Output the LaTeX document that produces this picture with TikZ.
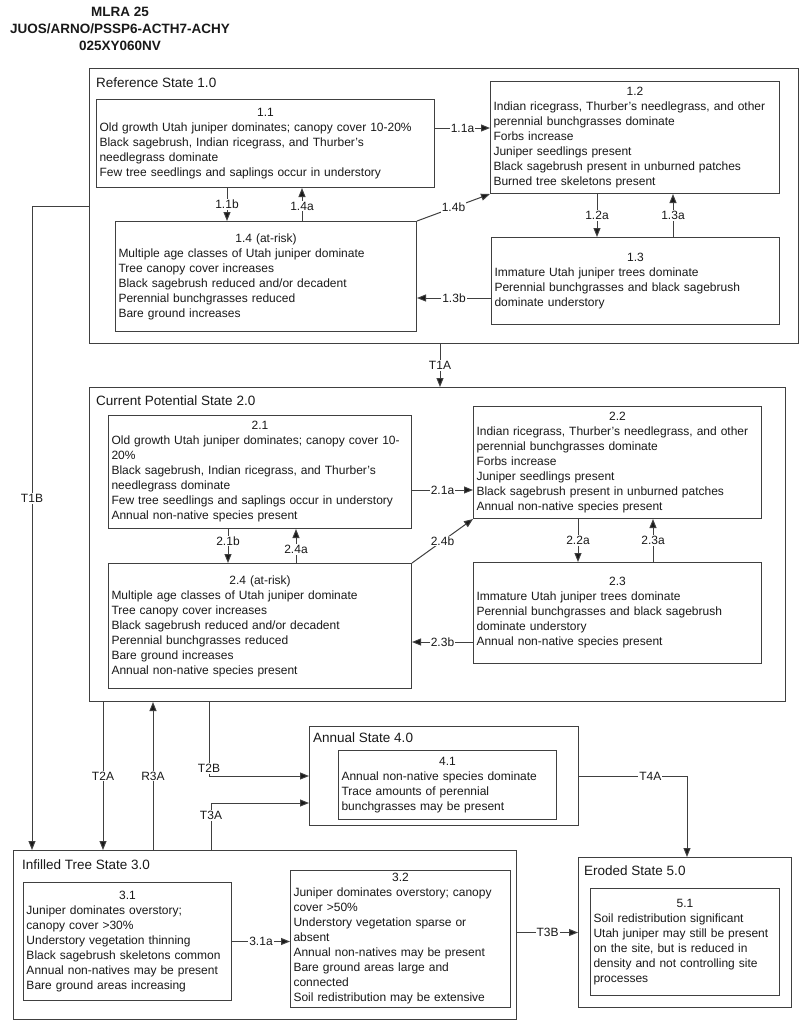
\documentclass[tikz,border=0pt]{standalone}
\usepackage{fontspec}
\setmainfont{Liberation Sans}
\usetikzlibrary{arrows.meta,calc}
\definecolor{linec}{gray}{0.25}
\definecolor{textc}{gray}{0.1}
\newcommand\subst[7]{%
  \node[subbox, text width=#4, minimum height=#5] (#1) at (#2,#3) {{\centering #6\par}#7};}
\begin{document}
\begin{tikzpicture}[x=1pt,y=-1pt,
  statebox/.style={draw=linec, line width=1pt, anchor=north west, inner sep=0pt},
  subbox/.style={draw=linec, line width=1pt, anchor=north west, align=left,
    inner xsep=3pt, inner ysep=0pt, text=textc, font=\fontsize{12}{15}\selectfont},
  statelbl/.style={anchor=west, inner sep=0pt, text=textc, font=\fontsize{13.5}{16}\selectfont},
  titlef/.style={inner sep=0pt, text=textc, font=\fontsize{13.5}{16}\selectfont\bfseries},
  arr/.style={draw=linec, line width=1pt, -{Triangle[length=9pt,width=7pt,fill=black!90]}},
  lbl/.style={fill=white, inner sep=1pt, text=textc, font=\fontsize{12}{14}\selectfont},
]
\useasboundingbox (0,0) rectangle (800,1021);
\fill[white] (0,0) rectangle (800,1021);

% titles
\node[titlef] (ta) at (120,12) {MLRA 25};
\node[titlef] (tb) at (120,29) {JUOS/ARNO/PSSP6-ACTH7-ACHY};
\node[titlef] (tc) at (120,46) {025XY060NV};

% state boxes
\node[statebox, minimum width=709, minimum height=275] (ref) at (89,68) {};
\node[statelbl] (refl) at (96,83) {Reference State 1.0};
\node[statebox, minimum width=696, minimum height=314] (cur) at (89,387) {};
\node[statelbl] (curl) at (96,401) {Current Potential State 2.0};
\node[statebox, minimum width=269, minimum height=99] (ann) at (309,726) {};
\node[statelbl] (annl) at (313,738) {Annual State 4.0};
\node[statebox, minimum width=503, minimum height=169] (inf) at (13,850) {};
\node[statelbl] (infl) at (22,865) {Infilled Tree State 3.0};
\node[statebox, minimum width=213, minimum height=150] (ero) at (578,857) {};
\node[statelbl] (erol) at (584,871) {Eroded State 5.0};

% community phases
\subst{n11}{96}{99}{332}{88}{1.1}{Old growth Utah juniper dominates; canopy cover 10-20\%\\Black sagebrush, Indian ricegrass, and Thurber's\\needlegrass dominate\\Few tree seedlings and saplings occur in understory}
\subst{n12}{490}{81}{283}{112}{1.2}{Indian ricegrass, Thurber's needlegrass, and other\\perennial bunchgrasses dominate\\Forbs increase\\Juniper seedlings present\\Black sagebrush present in unburned patches\\Burned tree skeletons present}
\subst{n14}{115}{221}{295}{110}{1.4 (at-risk)}{Multiple age classes of Utah juniper dominate\\Tree canopy cover increases\\Black sagebrush reduced and/or decadent\\Perennial bunchgrasses reduced\\Bare ground increases}
\subst{n13}{491}{237}{282}{87}{1.3}{Immature Utah juniper trees dominate\\Perennial bunchgrasses and black sagebrush\\dominate understory}

\subst{n21}{108}{415}{297}{113}{2.1}{Old growth Utah juniper dominates; canopy cover 10-\\20\%\\Black sagebrush, Indian ricegrass, and Thurber's\\needlegrass dominate\\Few tree seedlings and saplings occur in understory\\Annual non-native species present}
\subst{n22}{473}{406}{282}{112}{2.2}{Indian ricegrass, Thurber's needlegrass, and other\\perennial bunchgrasses dominate\\Forbs increase\\Juniper seedlings present\\Black sagebrush present in unburned patches\\Annual non-native species present}
\subst{n24}{108}{563}{297}{125}{2.4 (at-risk)}{Multiple age classes of Utah juniper dominate\\Tree canopy cover increases\\Black sagebrush reduced and/or decadent\\Perennial bunchgrasses reduced\\Bare ground increases\\Annual non-native species present}
\subst{n23}{473}{562}{282}{101}{2.3}{Immature Utah juniper trees dominate\\Perennial bunchgrasses and black sagebrush\\dominate understory\\Annual non-native species present}

\subst{n41}{338}{750}{212}{69}{4.1}{Annual non-native species dominate\\Trace amounts of perennial\\bunchgrasses may be present}
\subst{n31}{23}{882}{202}{118}{3.1}{Juniper dominates overstory;\\canopy cover >30\%\\Understory vegetation thinning\\Black sagebrush skeletons common\\Annual non-natives may be present\\Bare ground areas increasing}
\subst{n32}{290}{870}{214}{137}{3.2}{Juniper dominates overstory; canopy\\cover >50\%\\Understory vegetation sparse or\\absent\\Annual non-natives may be present\\Bare ground areas large and\\connected\\Soil redistribution may be extensive}
\subst{n51}{590}{888}{183}{107}{5.1}{Soil redistribution significant\\Utah juniper may still be present\\on the site, but is reduced in\\density and not controlling site\\processes}

% connectors within reference state
\coordinate (c11b) at ([xshift=131]n11.south west);
\draw[arr] (c11b) -- node[lbl]{1.1b} (c11b |- n14.north);
\coordinate (c14a) at ([xshift=187]n14.north west);
\draw[arr] (c14a) -- node[lbl,pos=0.45]{1.4a} (c14a |- n11.south);
\coordinate (c11a) at ([yshift=-29]n11.north east);
\draw[arr] (c11a) -- node[lbl]{1.1a} (c11a -| n12.west);
\draw[arr] (n14.north east) -- node[lbl]{1.4b} (n12.south west);
\coordinate (c12a) at ([xshift=107]n12.south west);
\draw[arr] (c12a) -- node[lbl]{1.2a} (c12a |- n13.north);
\coordinate (c13a) at ([xshift=182]n13.north west);
\draw[arr] (c13a) -- node[lbl]{1.3a} (c13a |- n12.south);
\coordinate (c13b) at ([yshift=-61]n13.north west);
\draw[arr] (c13b) -- node[lbl]{1.3b} (c13b -| n14.east);

% connectors within current potential state
\coordinate (c21b) at ([xshift=120]n21.south west);
\draw[arr] (c21b) -- node[lbl,pos=0.35]{2.1b} (c21b |- n24.north);
\coordinate (c24a) at ([xshift=188]n24.north west);
\draw[arr] (c24a) -- node[lbl,pos=0.4]{2.4a} (c24a |- n21.south);
\coordinate (c21a) at ([yshift=-75]n21.north east);
\draw[arr] (c21a) -- node[lbl]{2.1a} (c21a -| n22.west);
\draw[arr] (n24.north east) -- node[lbl]{2.4b} (n22.south west);
\coordinate (c22a) at ([xshift=105]n22.south west);
\draw[arr] (c22a) -- node[lbl]{2.2a} (c22a |- n23.north);
\coordinate (c23a) at ([xshift=180]n23.north west);
\draw[arr] (c23a) -- node[lbl]{2.3a} (c23a |- n22.south);
\coordinate (c23b) at ([yshift=-80]n23.north west);
\draw[arr] (c23b) -- node[lbl]{2.3b} (c23b -| n24.east);

% transitions
\coordinate (cT1A) at ([xshift=351]ref.south west);
\draw[arr] (cT1A) -- node[lbl]{T1A} (cT1A |- cur.north);
\coordinate (cT1B) at ([xshift=19]inf.north west);
\draw[arr] (ref.west) -| node[lbl,pos=0.727]{T1B} (cT1B);
\coordinate (cT2A) at ([xshift=14]cur.south west);
\draw[arr] (cT2A) -- node[lbl]{T2A} (cT2A |- inf.north);
\coordinate (cR3A) at ([xshift=140]inf.north west);
\draw[arr] (cR3A) -- node[lbl]{R3A} (cR3A |- cur.south);
\coordinate (cT2B) at ([xshift=120]cur.south west);
\draw[arr] (cT2B) |- node[lbl,pos=0.45]{T2B} (ann.west);
\coordinate (cT3A) at ([xshift=198]inf.north west);
\coordinate (cT3Ae) at ([yshift=-27]ann.west);
\draw[arr] (cT3A) |- node[lbl,pos=0.365]{T3A} (cT3Ae);
\coordinate (cT4A) at ([xshift=109]ero.north west);
\draw[arr] (ann.east) -| node[lbl,pos=0.33]{T4A} (cT4A);
\draw[arr] (inf.east |- ero.west) -- node[lbl]{T3B} (ero.west);
\draw[arr] (n31.east) -- node[lbl]{3.1a} (n31.east -| n32.west);
\end{tikzpicture}
\end{document}
